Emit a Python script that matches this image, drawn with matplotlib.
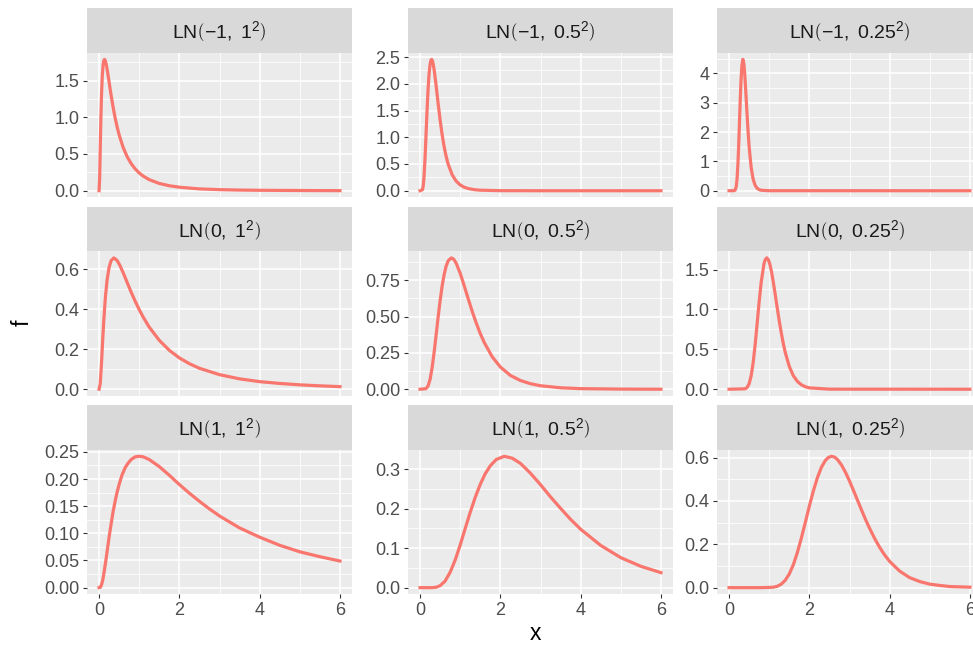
import matplotlib.pyplot as plt

plt.rcParams["font.family"] = ["Liberation Sans", "DejaVu Sans"]
plt.rcParams["mathtext.fontset"] = "custom"
plt.rcParams["mathtext.rm"] = "Liberation Sans"
plt.rcParams["mathtext.it"] = "Liberation Sans:italic"
plt.rcParams["mathtext.default"] = "regular"

# densities of LN(mu, sigma^2) (rows: mu = -1, 0, 1; cols: sigma = 1, 0.5, 0.25)
x1 = [0, 0.015, 0.03, 0.045, 0.06, 0.08, 0.1, 0.115, 0.135, 0.155, 0.18, 0.21, 0.25, 0.3, 0.35, 0.4, 0.45,
      0.5, 0.6, 0.7, 0.8, 0.9, 1.0, 1.1, 1.25, 1.5, 1.75, 2, 2.5, 3, 3.5, 4, 5, 6]
f1 = [0, 0.159, 0.575, 0.975, 1.285, 1.557, 1.708, 1.764, 1.788, 1.772, 1.717, 1.624, 1.481, 1.302, 1.138,
      0.994, 0.869, 0.761, 0.590, 0.463, 0.369, 0.297, 0.242, 0.199, 0.151, 0.099, 0.068, 0.048, 0.025,
      0.015, 0.009, 0.006, 0.003, 0.001]

x2 = [0, 0.06, 0.08, 0.1, 0.125, 0.15, 0.175, 0.2, 0.225, 0.25, 0.27, 0.29, 0.31, 0.33, 0.36, 0.4, 0.45,
      0.5, 0.55, 0.6, 0.65, 0.7, 0.8, 0.9, 1.0, 1.1, 1.2, 1.35, 1.5, 2, 3, 6]
f2 = [0, 0.019, 0.095, 0.268, 0.621, 1.064, 1.511, 1.898, 2.187, 2.368, 2.441, 2.457, 2.427, 2.361, 2.214,
      1.967, 1.635, 1.322, 1.050, 0.824, 0.642, 0.498, 0.298, 0.179, 0.108, 0.066, 0.041, 0.020, 0.010,
      0.001, 0, 0]

x3 = [0, 0.12, 0.15, 0.18, 0.2, 0.22, 0.24, 0.26, 0.28, 0.3, 0.32, 0.345, 0.37, 0.39, 0.415, 0.44, 0.47,
      0.5, 0.55, 0.6, 0.65, 0.7, 0.75, 0.8, 1.0, 6]
f3 = [0, 0.001, 0.017, 0.149, 0.409, 0.876, 1.545, 2.341, 3.140, 3.813, 4.269, 4.476, 4.312, 3.982, 3.424,
      2.806, 2.101, 1.503, 0.795, 0.392, 0.184, 0.083, 0.037, 0.016, 0.001, 0]

x4 = [0, 0.03, 0.06, 0.09, 0.12, 0.16, 0.2, 0.25, 0.3, 0.37, 0.45, 0.52, 0.6, 0.7, 0.8, 0.9, 1.0, 1.1,
      1.25, 1.5, 1.75, 2, 2.25, 2.5, 3, 3.5, 4, 4.5, 5, 5.5, 6]
f4 = [0, 0.028, 0.127, 0.244, 0.351, 0.465, 0.546, 0.610, 0.644, 0.658, 0.645, 0.620, 0.584, 0.535, 0.486,
      0.441, 0.399, 0.361, 0.311, 0.245, 0.195, 0.157, 0.128, 0.105, 0.073, 0.052, 0.038, 0.029, 0.022,
      0.017, 0.013]

x5 = [0, 0.15, 0.2, 0.25, 0.3, 0.35, 0.4, 0.45, 0.5, 0.55, 0.6, 0.65, 0.7, 0.78, 0.84, 0.9, 1.0, 1.1,
      1.2, 1.3, 1.4, 1.5, 1.6, 1.8, 2.0, 2.25, 2.5, 2.75, 3, 3.5, 4, 5, 6]
f5 = [0, 0.004, 0.023, 0.068, 0.147, 0.252, 0.372, 0.495, 0.610, 0.710, 0.789, 0.847, 0.884, 0.904, 0.894,
      0.867, 0.798, 0.712, 0.622, 0.535, 0.455, 0.383, 0.321, 0.222, 0.153, 0.095, 0.060, 0.038, 0.024,
      0.010, 0.004, 0.001, 0]

x6 = [0, 0.4, 0.45, 0.5, 0.55, 0.6, 0.65, 0.7, 0.75, 0.8, 0.87, 0.9, 0.94, 0.98, 1.02, 1.06, 1.1, 1.15,
      1.2, 1.25, 1.3, 1.35, 1.4, 1.5, 1.6, 1.7, 1.8, 1.9, 2.0, 2.5, 6]
f6 = [0, 0.005, 0.022, 0.068, 0.166, 0.330, 0.556, 0.824, 1.097, 1.339, 1.571, 1.622, 1.646, 1.623, 1.560,
      1.465, 1.349, 1.187, 1.019, 0.857, 0.708, 0.575, 0.461, 0.286, 0.170, 0.099, 0.056, 0.031, 0.017,
      0.001, 0]

x7 = [0, 0.03, 0.06, 0.09, 0.12, 0.16, 0.2, 0.25, 0.3, 0.35, 0.4, 0.45, 0.5, 0.57, 0.65, 0.72, 0.8, 0.9,
      1.0, 1.1, 1.25, 1.5, 1.75, 2, 2.25, 2.5, 2.75, 3, 3.5, 4, 4.5, 5, 5.5, 6]
f7 = [0, 0.0005, 0.005, 0.013, 0.026, 0.045, 0.066, 0.093, 0.117, 0.140, 0.159, 0.176, 0.190, 0.207, 0.221,
      0.229, 0.236, 0.241, 0.242, 0.241, 0.236, 0.223, 0.207, 0.190, 0.174, 0.159, 0.145, 0.132, 0.110,
      0.093, 0.078, 0.066, 0.057, 0.049]

x8 = [0, 0.3, 0.4, 0.5, 0.62, 0.75, 0.875, 1.0, 1.125, 1.25, 1.375, 1.5, 1.625, 1.75, 1.9, 2.1, 2.3, 2.5,
      2.75, 3, 3.25, 3.5, 3.75, 4, 4.5, 5, 5.5, 6]
f8 = [0, 0, 0.001, 0.005, 0.016, 0.039, 0.070, 0.108, 0.150, 0.191, 0.229, 0.262, 0.289, 0.309, 0.325,
      0.333, 0.328, 0.315, 0.290, 0.261, 0.230, 0.201, 0.173, 0.148, 0.107, 0.076, 0.054, 0.038]

x9 = [0, 0.8, 1.0, 1.1, 1.2, 1.3, 1.4, 1.5, 1.6, 1.7, 1.8, 1.9, 2.0, 2.1, 2.2, 2.3, 2.4, 2.47, 2.55, 2.63,
      2.7, 2.8, 2.9, 3.0, 3.1, 3.2, 3.3, 3.4, 3.5, 3.62, 3.75, 3.87, 4.0, 4.25, 4.5, 4.75, 5, 5.25, 5.5, 6]
f9 = [0, 0, 0.001, 0.002, 0.006, 0.016, 0.034, 0.063, 0.105, 0.161, 0.228, 0.301, 0.376, 0.446, 0.507,
      0.555, 0.587, 0.600, 0.606, 0.602, 0.591, 0.566, 0.532, 0.492, 0.448, 0.403, 0.358, 0.314, 0.274,
      0.229, 0.186, 0.152, 0.121, 0.076, 0.046, 0.028, 0.016, 0.010, 0.005, 0.002]

strip_labels = [
    r"$\mathrm{LN}\left(-1,\ 1^{2}\right)$", r"$\mathrm{LN}\left(-1,\ 0.5^{2}\right)$",
    r"$\mathrm{LN}\left(-1,\ 0.25^{2}\right)$",
    r"$\mathrm{LN}\left(0,\ 1^{2}\right)$", r"$\mathrm{LN}\left(0,\ 0.5^{2}\right)$",
    r"$\mathrm{LN}\left(0,\ 0.25^{2}\right)$",
    r"$\mathrm{LN}\left(1,\ 1^{2}\right)$", r"$\mathrm{LN}\left(1,\ 0.5^{2}\right)$",
    r"$\mathrm{LN}\left(1,\ 0.25^{2}\right)$",
]

y_ticklabels = [
    ["0.0", "0.5", "1.0", "1.5"], ["0.0", "0.5", "1.0", "1.5", "2.0", "2.5"], ["0", "1", "2", "3", "4"],
    ["0.0", "0.2", "0.4", "0.6"], ["0.00", "0.25", "0.50", "0.75"], ["0.0", "0.5", "1.0", "1.5"],
    ["0.00", "0.05", "0.10", "0.15", "0.20", "0.25"], ["0.0", "0.1", "0.2", "0.3"], ["0.0", "0.2", "0.4", "0.6"],
]
x_ticklabels = ["0", "2", "4", "6"]

xs = [x1, x2, x3, x4, x5, x6, x7, x8, x9]
fs = [f1, f2, f3, f4, f5, f6, f7, f8, f9]

W, H = 973, 645
fig = plt.figure(figsize=(W / 100, H / 100), dpi=100)

# panel geometry in pixels (right column runs past the figure edge, as in the original crop)
col_left = [87, 408, 717]
row_top = [8.3, 206.8, 405.2]
pw, sh, ph = 265, 44.5, 144.5

for i in range(9):
    r, c = divmod(i, 3)
    left = col_left[c] / W
    top = row_top[r]

    strip = fig.add_axes([left, 1 - (top + sh) / H, pw / W, sh / H])
    strip.set_facecolor("#D9D9D9")
    strip.set_xticks([])
    strip.set_yticks([])
    for s in strip.spines.values():
        s.set_visible(False)
    strip.text(0.5, 0.47, strip_labels[i], ha="center", va="center", fontsize=14,
               color="#1A1A1A", transform=strip.transAxes)

    ax = fig.add_axes([left, 1 - (top + sh + ph) / H, pw / W, ph / H])
    ax.set_facecolor("#EBEBEB")
    for s in ax.spines.values():
        s.set_visible(False)
    ax.set_axisbelow(True)
    ax.plot(xs[i], fs[i], color="#F8766D", lw=2.3, solid_joinstyle="round")

    ax.set_xlim(-0.3, 6.3)
    lo, hi = min(fs[i]), max(fs[i])
    pad = (hi - lo) * 0.05
    ax.set_ylim(lo - pad, hi + pad)

    xt = [float(t) for t in x_ticklabels]
    ax.set_xticks(xt)
    ax.set_xticks([(a + b) / 2 for a, b in zip(xt[:-1], xt[1:])], minor=True)
    yt = [float(t) for t in y_ticklabels[i]]
    step = yt[1] - yt[0]
    ymin = [(a + b) / 2 for a, b in zip(yt[:-1], yt[1:])]
    if yt[-1] + step / 2 < hi + pad:
        ymin.append(yt[-1] + step / 2)
    ax.set_yticks(yt)
    ax.set_yticklabels(y_ticklabels[i])
    ax.set_yticks(ymin, minor=True)

    ax.grid(which="major", color="white", lw=1.1)
    ax.grid(which="minor", color="white", lw=0.55)
    ax.tick_params(which="minor", length=0)
    ax.tick_params(which="major", color="#333333", length=3, width=0.8, pad=2.5,
                   labelsize=13, labelcolor="#4D4D4D")
    if r < 2:
        ax.tick_params(axis="x", which="both", length=0, labelbottom=False)
    else:
        ax.set_xticklabels(x_ticklabels)

fig.text(535 / W, 1 - 640 / H, "x", ha="center", va="baseline", fontsize=16.5)
fig.text(22 / W, 1 - 323 / H, "f", ha="center", va="center", rotation=90, fontsize=16.5)

fig.savefig("out.png", dpi=100)
